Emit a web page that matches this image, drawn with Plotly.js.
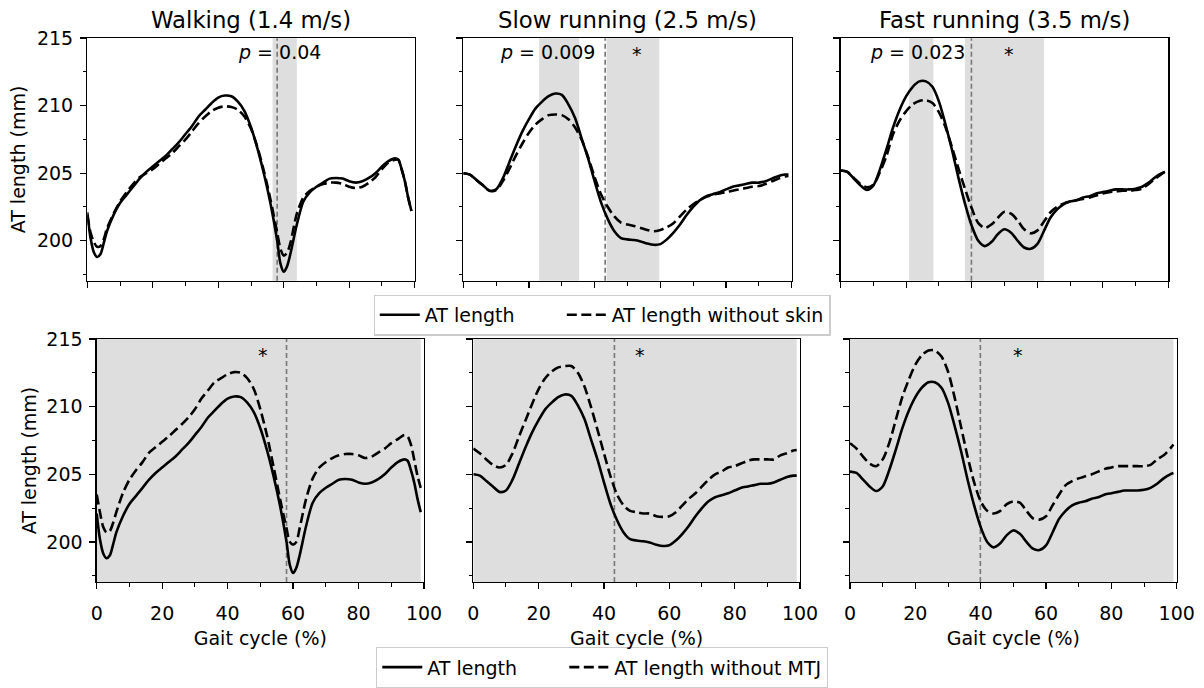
<!DOCTYPE html>
<html>
<head>
<meta charset="utf-8">
<script src="https://cdn.plot.ly/plotly-3.0.1.min.js"></script>
<style>
  html, body { margin: 0; padding: 0; background: #ffffff; }
  #chart { width: 1204px; height: 688px; }
</style>
</head>
<body>
<div id="chart"></div>
<script>
// ---------------- data ----------------
var conditions = ["Walking (1.4 m/s)", "Slow running (2.5 m/s)", "Fast running (3.5 m/s)"];

var walkX = [0,1,2,3,4,5,6,8,10,12,14,16,18,20,22,24,26,28,30,32,34,36,38,40,42,44,46,48,50,52,54,56,58,59,60,61,62,64,66,68,70,72,74,76,78,80,82,84,86,88,90,92,94,95,96,97,98,99];
var walkAT = [202.1,200.2,199.15,198.8,199.0,199.8,200.7,
  201.9,202.8,203.4,204.0,204.6,205.1,205.5,205.9,206.3,206.8,207.3,207.9,208.5,209.2,209.7,210.2,210.6,210.75,210.7,210.3,209.6,208.4,206.8,204.9,202.7,
  200.0,198.3,197.7,198.1,199.0,
  201.2,202.9,203.6,204.0,204.3,204.6,204.65,204.6,204.4,204.3,204.4,204.65,205.0,205.5,205.9,206.1,
  206.0,205.3,204.4,203.2,202.2];
var walkNoSkin = [201.9,200.6,199.9,199.55,199.6,200.1,200.9,
  202.0,202.9,203.6,204.2,204.7,205.0,205.3,205.7,206.1,206.5,207.0,207.5,208.1,208.7,209.2,209.6,209.85,209.95,209.9,209.7,209.2,208.3,206.9,205.1,203.0,
  200.6,199.4,198.9,199.1,199.8,
  202.0,203.2,203.7,204.0,204.2,204.3,204.3,204.2,204.0,203.9,204.0,204.3,204.7,205.3,205.8,206.0,
  206.0,205.3,204.4,203.2,202.2];
var walkNoMTJ = [203.5,202.2,201.1,200.7,200.8,201.4,202.2,
  203.6,204.6,205.3,205.9,206.6,207.0,207.4,207.8,208.25,208.7,209.2,209.8,210.6,211.2,211.8,212.1,212.4,212.55,212.5,212.1,211.3,209.8,207.9,205.6,203.2,
  201.0,200.0,199.8,200.0,201.0,
  203.2,204.7,205.5,205.9,206.2,206.4,206.5,206.5,206.4,206.2,206.3,206.6,206.9,207.3,207.6,207.9,
  207.8,207.2,206.1,204.9,204.0];

var runX = [0,2,4,6,8,10,12,14,16,18,20,22,24,26,28,30,32,34,36,38,40,42,44,46,48,50,52,54,56,58,60,62,64,66,68,70,72,74,76,78,80,82,84,86,88,90,92,94,96,98,99];
var slowAT = [205.0,204.9,204.5,204.1,203.7,203.8,204.6,205.8,207.0,208.1,
  209.0,209.8,210.3,210.7,210.9,210.8,210.1,209.1,207.6,206.1,
  204.4,202.8,201.6,200.7,200.2,200.1,200.05,199.95,199.8,199.7,
  199.75,200.1,200.6,201.2,201.9,202.5,203.0,203.3,203.45,203.6,
  203.8,204.0,204.1,204.2,204.3,204.3,204.4,204.6,204.8,204.9,204.9];
var slowNoSkin = [205.0,204.9,204.5,204.1,203.7,203.75,204.4,205.3,206.3,207.2,
  208.0,208.6,209.0,209.3,209.35,209.3,209.0,208.4,207.5,206.2,
  204.7,203.4,202.5,201.8,201.35,201.2,201.1,200.95,200.8,200.7,
  200.8,201.0,201.3,201.8,202.3,202.7,203.0,203.25,203.4,203.5,
  203.6,203.7,203.8,203.9,204.0,204.05,204.2,204.4,204.6,204.75,204.8];
var slowNoMTJ = [206.9,206.55,206.1,205.7,205.5,205.7,206.55,207.8,209.0,210.2,
  211.3,212.1,212.6,212.9,213.0,213.0,212.5,211.5,210.0,208.3,
  206.55,204.85,203.5,202.7,202.3,202.2,202.1,202.1,201.9,201.85,
  201.9,202.2,202.7,203.2,203.6,204.1,204.6,205.0,205.2,205.5,
  205.6,205.8,206.0,206.1,206.1,206.1,206.1,206.4,206.55,206.75,206.8];
var fastAT = [205.2,205.1,204.6,204.1,203.76,204.1,205.3,206.8,208.4,209.7,
  210.7,211.4,211.8,211.8,211.4,210.3,208.6,206.7,204.6,202.7,
  201.1,200.0,199.6,199.9,200.5,200.85,200.6,200.0,199.5,199.4,
  199.75,200.7,201.7,202.3,202.7,202.9,203.0,203.2,203.3,203.5,
  203.6,203.7,203.8,203.8,203.8,203.85,204.0,204.3,204.7,205.0,205.1];
var fastNoSkin = [205.2,205.1,204.65,204.2,203.95,204.15,205.1,206.3,207.9,208.9,
  209.6,210.1,210.35,210.4,210.2,209.5,208.4,206.9,205.3,203.8,
  202.4,201.3,200.95,201.2,201.7,202.15,202.0,201.5,200.85,200.55,
  200.75,201.4,202.1,202.5,202.75,202.9,203.0,203.1,203.2,203.35,
  203.5,203.6,203.65,203.7,203.7,203.75,203.85,204.2,204.6,204.95,205.1];
var fastNoMTJ = [207.3,206.9,206.3,205.8,205.6,206.1,207.3,209.0,210.7,212.0,
  213.1,213.8,214.15,214.15,213.7,212.6,210.7,208.5,206.3,204.4,
  203.0,202.3,202.1,202.3,202.8,203.0,202.9,202.3,201.75,201.65,
  201.9,202.7,203.5,204.2,204.5,204.7,204.85,205.0,205.2,205.4,
  205.5,205.6,205.6,205.6,205.6,205.6,205.7,206.1,206.4,206.9,207.2];

// significant clusters (top row) and toe-off line per condition
var walkSpans = [[56.6, 64.0]];
var slowSpans = [[23.1, 35.3], [43.6, 59.7]];
var fastSpans = [[20.9, 28.3], [37.9, 62.1]];
var mtjSpan = [0, 99];
var toeOff = [58.0, 43.2, 39.9];
var pValues = ["0.04", "0.009", "0.023"];
var pTextX = [58.8, 40.6, 38.5];
var starTopX = [null, 52.8, 51.5];
var starBottomX = [50.9, 51.0, 51.4];

var legendLabels = ["AT length", "AT length without skin", "AT length without MTJ"];
var xTitle = "Gait cycle (%)";
var yTitle = "AT length (mm)";

// ---------------- figure ----------------
var W = 1204, H = 688;
var FONT = "DejaVu Sans";
var SHADE = "#dedede";
var PAD = "\u00a0\u00a0\u00a0\u00a0\u00a0\u00a0\u00a0";   // spacing after the first legend entry

var xs = [walkX, runX, runX];
var atSeries = [walkAT, slowAT, fastAT];
var skinSeries = [walkNoSkin, slowNoSkin, fastNoSkin];
var mtjSeries = [walkNoMTJ, slowNoMTJ, fastNoMTJ];
var topSpans = [walkSpans, slowSpans, fastSpans];

var topXDom = [[87.3, 414.7], [463.3, 791.7], [840.7, 1168.3]];
var botXDom = [[96.7, 424.0], [473.3, 800.0], [850.0, 1176.7]];
var topYDom = [38.7, 285.0];
var botYDom = [344.0, 590.7];

function px2x(a) { return [a[0] / W, a[1] / W]; }
function px2y(a) { return [1 - a[1] / H, 1 - a[0] / H]; }

var traces = [];
var shapes = [];
var annotations = [];

function legendCfg(topPx) {
  return {
    orientation: "h", x: 0.5, xanchor: "center", y: 1 - topPx / H, yanchor: "top",
    bordercolor: "#cccccc", borderwidth: 1.3, bgcolor: "#ffffff",
    font: {family: FONT, size: 19, color: "#000000"},
    itemwidth: 40, traceorder: "normal"
  };
}

var layout = {
  width: W, height: H,
  margin: {l: 0, r: 0, t: 0, b: 0},
  paper_bgcolor: "#ffffff",
  plot_bgcolor: "#ffffff",
  font: {family: FONT, size: 19, color: "#000000"},
  showlegend: true,
  legend: legendCfg(299),
  legend2: legendCfg(657)
};

function axisBase() {
  return {
    showline: true, mirror: true, linecolor: "#000000", linewidth: 1.3,
    ticks: "outside", ticklen: 6, tickwidth: 1.3, tickcolor: "#000000",
    showgrid: false, zeroline: false, fixedrange: true,
    tickfont: {family: FONT, size: 19, color: "#000000"}
  };
}

for (var row = 0; row < 2; row++) {
  for (var c = 0; c < 3; c++) {
    var idx = row * 3 + c + 1;
    var xName = "x" + (idx === 1 ? "" : idx);
    var yName = "y" + (idx === 1 ? "" : idx);
    var xKey = "xaxis" + (idx === 1 ? "" : idx);
    var yKey = "yaxis" + (idx === 1 ? "" : idx);

    var xa = axisBase();
    xa.domain = px2x(row === 0 ? topXDom[c] : botXDom[c]);
    xa.range = [0, 100];
    xa.tick0 = 0; xa.dtick = 20;
    xa.minor = {ticks: "outside", ticklen: 3.5, tickwidth: 1, tickcolor: "#000000", dtick: 10, tick0: 0, showgrid: false};
    xa.anchor = yName;
    xa.showticklabels = (row === 1);
    xa.ticklabelstandoff = 8;
    if (row === 1) {
      xa.title = {text: xTitle, font: {family: FONT, size: 19, color: "#000000"}, standoff: 8};
    }
    layout[xKey] = xa;

    var ya = axisBase();
    ya.domain = px2y(row === 0 ? topYDom : botYDom);
    ya.range = [197.03, 215];
    ya.tick0 = 200; ya.dtick = 5;
    ya.minor = {ticks: "outside", ticklen: 3.5, tickwidth: 1, tickcolor: "#000000", dtick: 2.5, tick0: 200, showgrid: false};
    ya.anchor = xName;
    ya.showticklabels = (c === 0);
    ya.ticklabelstandoff = 3;
    if (c === 0) {
      ya.title = {text: yTitle, font: {family: FONT, size: 19, color: "#000000"}, standoff: row === 0 ? 6 : 4};
    }
    layout[yKey] = ya;

    // shading
    var spans = row === 0 ? topSpans[c] : [mtjSpan];
    spans.forEach(function (s) {
      shapes.push({type: "rect", xref: xName, yref: yName + " domain", x0: s[0], x1: s[1], y0: 0, y1: 1,
        fillcolor: SHADE, line: {width: 0}, layer: "below"});
    });
    // toe-off line
    shapes.push({type: "line", xref: xName, yref: yName + " domain", x0: toeOff[c], x1: toeOff[c], y0: 0, y1: 1,
      line: {color: "#777777", width: 1.6, dash: "5px,3px"}, layer: "below"});

    // curves
    var second = row === 0 ? skinSeries[c] : mtjSeries[c];
    var lg = row === 0 ? "legend" : "legend2";
    traces.push({
      type: "scatter", mode: "lines", x: xs[c], y: atSeries[c], xaxis: xName, yaxis: yName,
      line: {color: "#000000", width: 2.6, shape: "spline", smoothing: 0.8},
      name: legendLabels[0] + PAD, legend: lg, showlegend: c === 0, hoverinfo: "skip"
    });
    traces.push({
      type: "scatter", mode: "lines", x: xs[c], y: second, xaxis: xName, yaxis: yName,
      line: {color: "#000000", width: 2.6, dash: "10px,4.5px", shape: "spline", smoothing: 0.8},
      name: row === 0 ? legendLabels[1] : legendLabels[2], legend: lg, showlegend: c === 0, hoverinfo: "skip"
    });

    // annotations
    if (row === 0) {
      var dom = px2x(topXDom[c]);
      annotations.push({xref: "paper", yref: "paper", x: (dom[0] + dom[1]) / 2, y: 1 - 20 / H,
        xanchor: "center", yanchor: "middle", showarrow: false, text: conditions[c],
        font: {family: FONT, size: 22.8, color: "#000000"}});
      annotations.push({xref: xName, yref: yName, x: pTextX[c], y: 213.95,
        xanchor: c === 0 ? "center" : "right", yanchor: "middle", showarrow: false,
        text: "<i>p</i> = " + pValues[c], font: {family: FONT, size: 19, color: "#000000"}});
      if (starTopX[c] !== null) {
        annotations.push({xref: xName, yref: yName, x: starTopX[c], y: 213.8, xanchor: "center", yanchor: "middle",
          showarrow: false, text: "*", font: {family: FONT, size: 19, color: "#000000"}});
      }
    } else {
      annotations.push({xref: xName, yref: yName, x: starBottomX[c], y: 213.8, xanchor: "center", yanchor: "middle",
        showarrow: false, text: "*", font: {family: FONT, size: 19, color: "#000000"}});
    }
  }
}

layout.shapes = shapes;
layout.annotations = annotations;

Plotly.newPlot("chart", traces, layout, {displayModeBar: false, staticPlot: true});
</script>
</body>
</html>
